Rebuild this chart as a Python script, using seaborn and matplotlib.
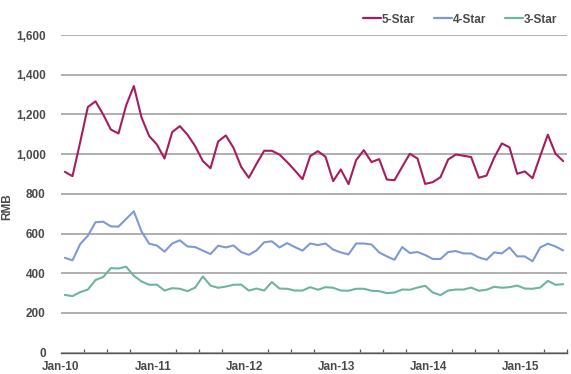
import matplotlib
matplotlib.use("Agg")
import matplotlib.pyplot as plt
from matplotlib.ticker import FixedLocator, MultipleLocator, FuncFormatter
import seaborn as sns
import pandas as pd
import numpy as np

# Monthly average room rates (RMB), Jan-2010 .. Jun-2015
five_star = [911, 889, 1060, 1237, 1266, 1200, 1124, 1104, 1246, 1343,
             1185, 1091, 1049, 978, 1111, 1141, 1098, 1040, 965, 929,
             1064, 1094, 1032, 936, 881, 951, 1017, 1017, 998, 960,
             918, 874, 990, 1015, 987, 864, 923, 849, 970, 1020,
             960, 975, 872, 869, 936, 1002, 978, 850, 859, 884,
             973, 998, 992, 985, 881, 892, 982, 1054, 1034, 901,
             913, 879, 990, 1098, 1002, 965]
four_star = [478, 465, 547, 589, 657, 660, 636, 635, 674, 712,
             611, 549, 540, 509, 550, 566, 535, 532, 514, 497,
             539, 530, 540, 507, 493, 515, 556, 561, 530, 552,
             532, 514, 550, 542, 550, 519, 505, 495, 550, 550,
             545, 505, 485, 468, 532, 502, 507, 492, 472, 472,
             507, 512, 500, 500, 480, 468, 505, 500, 530, 485,
             485, 460, 530, 549, 535, 515]
three_star = [291, 285, 305, 318, 366, 381, 426, 424, 433, 387,
              359, 342, 343, 313, 325, 322, 310, 328, 384, 338,
              327, 333, 342, 343, 313, 323, 313, 356, 323, 322,
              313, 313, 330, 317, 330, 327, 313, 312, 322, 322,
              312, 310, 300, 303, 318, 317, 328, 337, 303, 290,
              313, 318, 318, 328, 312, 317, 332, 327, 330, 338,
              323, 322, 328, 362, 342, 345]
series_names = ["5-Star", "4-Star", "3-Star"]
year_labels = ["Jan-10", "Jan-11", "Jan-12", "Jan-13", "Jan-14", "Jan-15"]
y_ticks = [0, 200, 400, 600, 800, 1000, 1200, 1400, 1600]

n = len(five_star)
month_idx = np.arange(n) + 0.5  # category centres
df = pd.DataFrame({
    "month": np.tile(month_idx, 3),
    "RMB": five_star + four_star + three_star,
    "Class": np.repeat(series_names, n),
})

sns.set_style("white")
plt.rcParams["font.family"] = ["Liberation Sans", "DejaVu Sans"]

fig = plt.figure(figsize=(5.71, 3.74), dpi=100)
ax = fig.add_axes([61 / 571, 1 - 352.7 / 374, (567 - 61) / 571, (352.7 - 35) / 374])

palette = {"5-Star": "#A51D5E", "4-Star": "#7E9AD4", "3-Star": "#6DB59F"}
sns.lineplot(data=df, x="month", y="RMB", hue="Class", palette=palette,
             linewidth=1.5, ax=ax, legend=True)

ax.set_xlim(0, n)
ax.set_ylim(0, 1600)
ax.yaxis.set_major_locator(FixedLocator(y_ticks))
ax.yaxis.set_major_formatter(FuncFormatter(lambda v, p: f"{int(v):,}"))
ax.grid(axis="y", color="#9a9a9a", linewidth=1.1)
ax.grid(axis="x", visible=False)
ax.set_axisbelow(True)

ax.xaxis.set_major_locator(FixedLocator([12 * i for i in range(len(year_labels))]))
ax.set_xticklabels(year_labels)
ax.xaxis.set_minor_locator(MultipleLocator(3))

for s in ["left", "top", "right"]:
    ax.spines[s].set_visible(False)
ax.spines["bottom"].set_color("#555555")
ax.spines["bottom"].set_linewidth(1.0)

txt = "#4a4a4a"
ax.tick_params(axis="x", which="major", direction="inout", length=7, width=1,
               color="#555555", labelsize=8.5, labelcolor=txt, pad=2.5)
ax.tick_params(axis="x", which="minor", direction="in", length=3, width=0.9,
               color="#555555", bottom=True)
ax.tick_params(axis="y", length=0, labelsize=8.5, labelcolor=txt, pad=11)
for lab in ax.get_xticklabels() + ax.get_yticklabels():
    lab.set_fontweight("bold")

ax.set_xlabel("")
ax.set_ylabel("RMB", fontsize=8.5, fontweight="bold", color=txt)
ax.yaxis.set_label_coords((13 - 61) / 506, (352.7 - 207) / 317.7)

leg = ax.legend(loc="lower right", bbox_to_anchor=(1.0, 1.0), ncol=3, frameon=False,
                handlelength=1.5, handletextpad=0.1, columnspacing=1.6,
                fontsize=8.5, borderaxespad=0.4)
for t in leg.get_texts():
    t.set_fontweight("bold")
    t.set_color(txt)
for h in leg.get_lines():
    h.set_linewidth(1.6)

fig.savefig("out.png", dpi=100)
